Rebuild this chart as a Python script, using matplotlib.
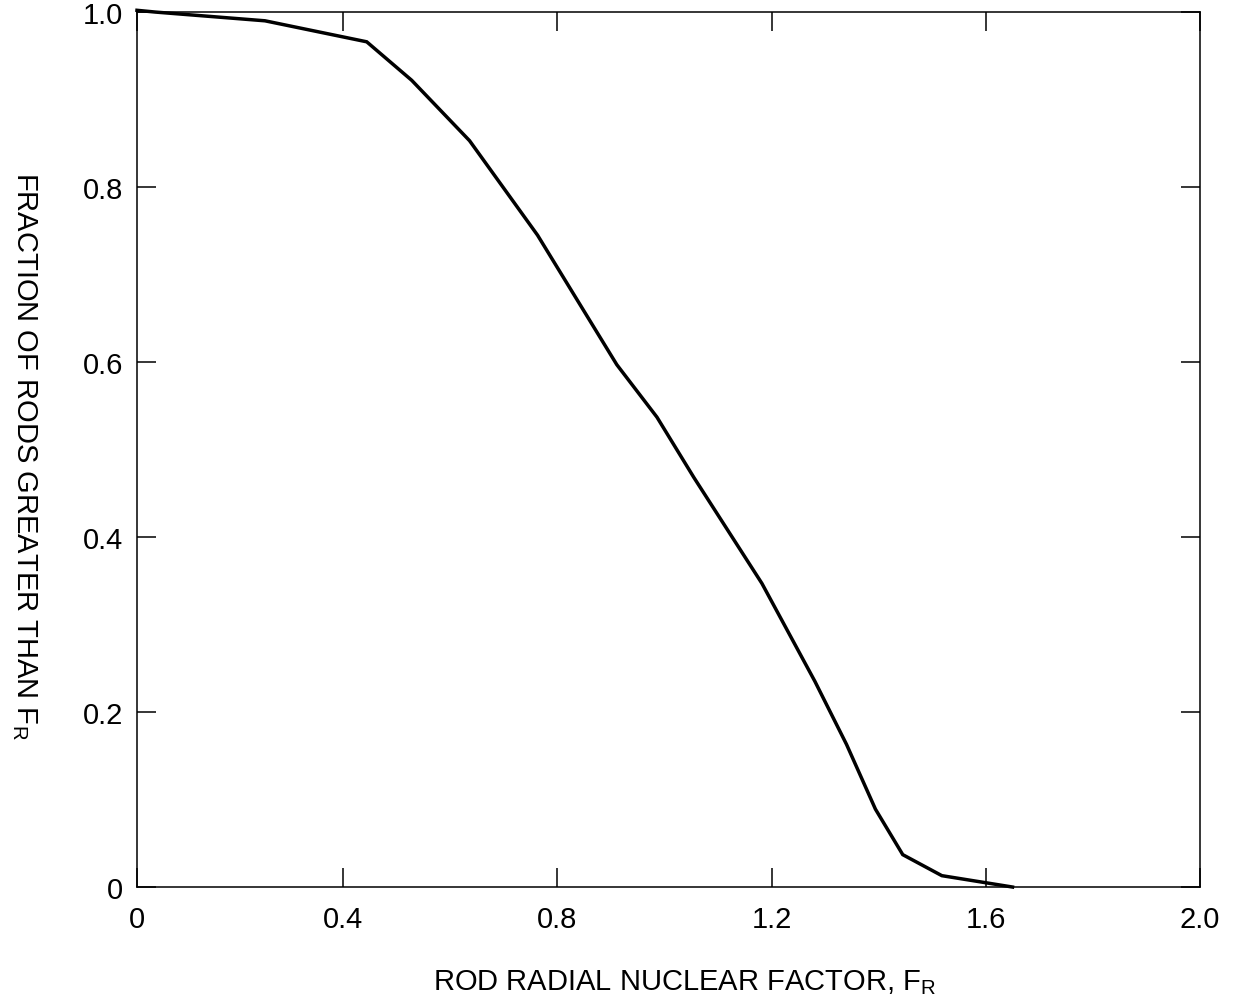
import matplotlib.pyplot as plt

plt.rcParams["font.family"] = ["Liberation Sans", "DejaVu Sans"]
plt.rcParams["mathtext.fontset"] = "custom"
plt.rcParams["mathtext.rm"] = "Liberation Sans"

# values
fr = [0.015, 0.049, 0.254, 0.444, 0.528, 0.636, 0.763, 0.911, 0.986,
      1.055, 1.182, 1.281, 1.340, 1.394, 1.445, 1.518, 1.650]
frac = [1.002, 1.0, 0.990, 0.966, 0.922, 0.853, 0.745, 0.597, 0.537,
        0.468, 0.347, 0.235, 0.163, 0.089, 0.037, 0.013, 0.0]

x_ticks = [0.015, 0.4, 0.8, 1.2, 1.6, 2.0]
x_labels = ["0", "0.4", "0.8", "1.2", "1.6", "2.0"]
y_ticks = [0, 0.2, 0.4, 0.6, 0.8, 1.0]
y_labels = ["0", "0.2", "0.4", "0.6", "0.8", "1.0"]

fig = plt.figure(figsize=(12.33, 10.04), dpi=100)
ax = fig.add_axes([0.1111, 0.1155, 0.8621, 0.8715])

ax.plot(fr, frac, color="black", linewidth=2.5, solid_joinstyle="miter", clip_on=False)

ax.set_xlim(0.015, 2.0)
ax.set_ylim(0, 1.0)
ax.set_xticks(x_ticks, x_labels)
ax.set_yticks(y_ticks, y_labels)

ax.tick_params(direction="in", length=14, width=1.1, top=True, right=True,
               labelsize=21, color="black")
ax.tick_params(axis="x", pad=13)
ax.tick_params(axis="y", pad=10)
for s in ax.spines.values():
    s.set_linewidth(1.1)

ax.set_xlabel(r"ROD RADIAL NUCLEAR FACTOR, F$_\mathregular{R}$", fontsize=21,
              ha="center", va="baseline")
ax.xaxis.set_label_coords(0.5155, -0.1164)
ax.set_ylabel(r"FRACTION OF RODS GREATER THAN F$_\mathregular{R}$", fontsize=21,
              rotation=270, ha="center", va="center")
ax.yaxis.set_label_coords(-0.106, 0.494)

fig.savefig("out.png", dpi=100)
